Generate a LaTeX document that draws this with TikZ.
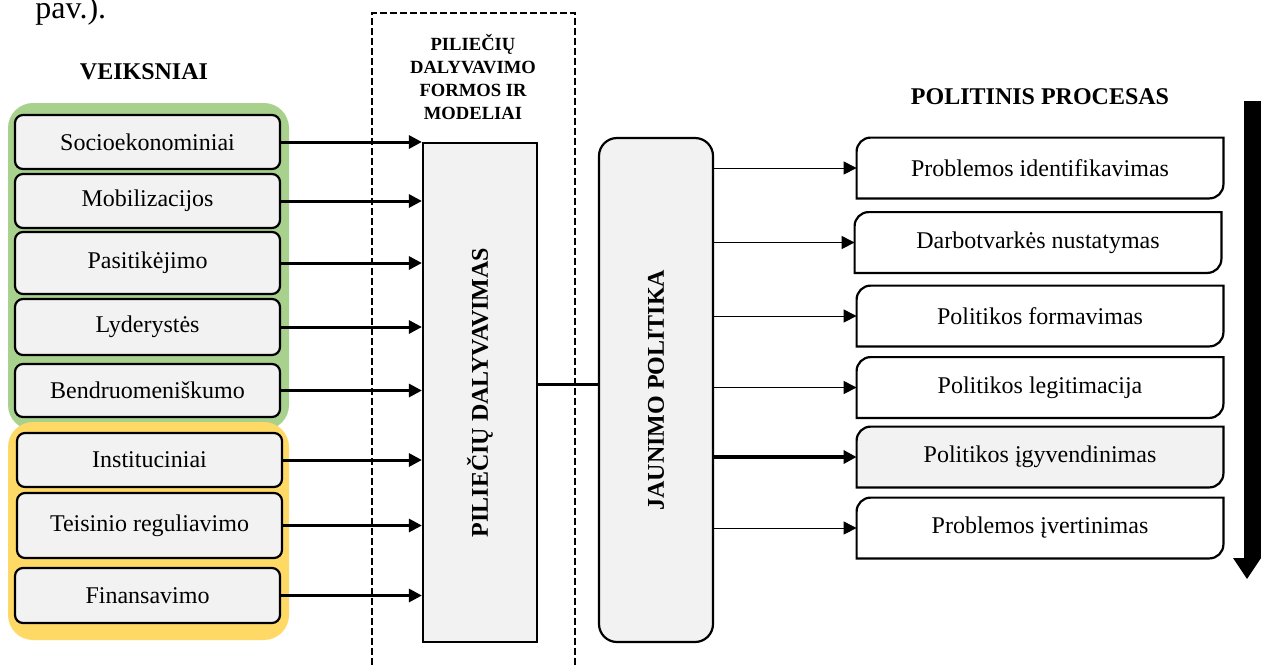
\documentclass[tikz,border=0pt]{standalone}
\usepackage{fontspec}
\setmainfont{Liberation Serif}
\usepackage{xcolor}
\usetikzlibrary{positioning,calc,arrows.meta,backgrounds}

\definecolor{boxgray}{HTML}{F2F2F2}
\definecolor{panelgreen}{HTML}{A9D18E}
\definecolor{panelyellow}{HTML}{FFD966}

\tikzset{
    factor/.style={draw, line width=1.1pt, rounded corners=4pt, fill=boxgray,
        minimum width=132.5pt, minimum height=27pt, font=\fontsize{12}{14}\selectfont},
    stage/.style={minimum width=183pt, minimum height=30pt, font=\fontsize{12}{14}\selectfont},
    heading/.style={font=\fontsize{12}{14}\selectfont\bfseries},
    bigarr/.style={-{Triangle[length=6.5pt,width=6.5pt]}, line width=1.5pt},
    thinarr/.style={-{Triangle[length=6.5pt,width=6.5pt]}, line width=0.5pt}
}

\begin{document}
\begin{tikzpicture}[x=0.5pt, y=-0.5pt]
    \useasboundingbox (0,0) rectangle (1261,665);

    % Text above
    \node[anchor=base west, inner sep=0pt, font=\fontsize{16}{18}\selectfont] (pav) at (35,18) {pav.).};

    % Panels
    \fill[panelgreen, rounded corners=12.5pt] (8,103) rectangle (289,430);
    \fill[panelyellow, rounded corners=12.5pt] (8,422) rectangle (289,640);

    % Factors
    \node[heading] (veik) at (144,72) {VEIKSNIAI};
    \node[factor] (socio) at (147.5,142) {Socioekonominiai};
    \node[factor] (mobil) at (147.5,201) {Mobilizacijos};
    \node[factor, minimum height=31pt] (pasit) at (147.5,263) {Pasitikėjimo};
    \node[factor, minimum height=28pt] (lyder) at (147.5,327) {Lyderystės};
    \node[factor, minimum height=26.5pt] (bendr) at (147.5,390.5) {Bendruomeniškumo};
    \node[factor] (instit) at (149.5,460) {Instituciniai};
    \node[factor, minimum height=32.5pt] (teis) at (149.5,525.5) {Teisinio reguliavimo};
    \node[factor, minimum height=27.5pt] (finans) at (147.5,595.5) {Finansavimo};

    % Dashed frame
    \draw[line width=1pt, dash pattern=on 3.5pt off 1.5pt] (372,665) -- (372,13) -- (575,13) -- (575,665);
    \node[font=\fontsize{9.3}{11.5}\selectfont\bfseries, align=center] (formos) at (473,77)
        {PILIEČIŲ\\DALYVAVIMO\\FORMOS IR\\MODELIAI};

    % Middle blocks
    \node[draw, line width=1.1pt, fill=boxgray, minimum width=57pt, minimum height=249.5pt] (pd) at (480,392.5) {};
    \node[heading, rotate=90] (pdlabel) at (pd.center) {PILIEČIŲ DALYVAVIMAS};
    \node[draw, line width=1.1pt, fill=boxgray, rounded corners=9pt, minimum width=57pt, minimum height=252pt] (jp) at (656,390) {};
    \node[heading, rotate=90] (jplabel) at (jp.center) {JAUNIMO POLITIKA};

    \foreach \n in {socio,mobil,pasit,lyder,bendr,instit,teis,finans}
        \draw[bigarr] (\n.east) -- (\n.east -| pd.west);
    \draw[line width=1.5pt] ([yshift=4.25pt]pd.east) -- ([yshift=4.25pt]pd.east -| jp.west);

    % Policy process
    \node[heading] (polit) at (1040,97) {POLITINIS PROCESAS};
    \node[stage] (st1) at (1040,168) {Problemos identifikavimas};
    \node[stage] (st2) at (1038,242.5) {Darbotvarkės nustatymas};
    \node[stage] (st3) at (1040,316) {Politikos formavimas};
    \node[stage] (st4) at (1040,387.5) {Politikos legitimacija};
    \node[stage] (st5) at (1040,457) {Politikos įgyvendinimas};
    \node[stage] (st6) at (1040,528) {Problemos įvertinimas};

    \begin{scope}[on background layer]
        \foreach \n/\c in {st1/white,st2/white,st3/white,st4/white,st5/boxgray,st6/white}
            \filldraw[fill=\c, line width=1.1pt] (\n.north) -- (\n.north east) [rounded corners=7pt] -- (\n.south east)
                [sharp corners] -- (\n.south west) [rounded corners=7pt] -- (\n.north west) [sharp corners] -- cycle;
    \end{scope}

    \foreach \n in {st1,st2,st3,st4,st6}
        \draw[thinarr] (jp.east |- \n.west) -- (\n.west);
    \draw[bigarr, line width=1.7pt] (jp.east |- st5.west) -- (st5.west);

    % Direction arrow
    \fill (1244,101) -- (1261,101) -- (1261,558) -- (1247,579) -- (1233,558) -- (1244,558) -- cycle;
\end{tikzpicture}
\end{document}
